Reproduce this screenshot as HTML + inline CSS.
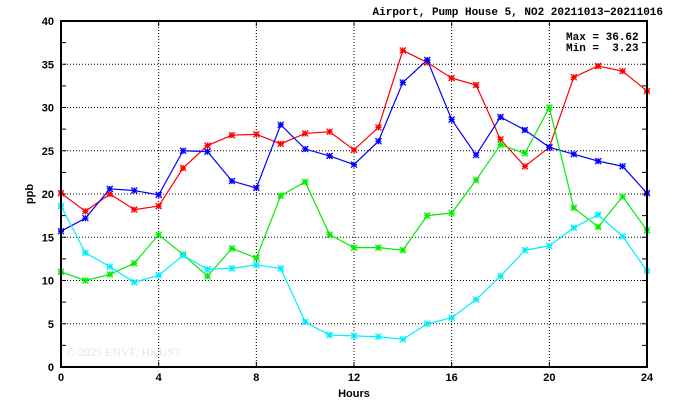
<!DOCTYPE html>
<html><head><meta charset="utf-8"><style>
body{margin:0;background:#fff}
svg text{font-family:"Liberation Sans",sans-serif;font-weight:bold;font-size:11px}
.mono{font-family:"Liberation Mono",monospace !important}
</style></head><body>
<svg id="s" width="674" height="409" xmlns="http://www.w3.org/2000/svg">
<text class="mono" x="663" y="15" text-anchor="end" font-size="11">Airport, Pump House 5, NO2 20211013−20211016</text>
<text class="mono" x="566" y="40" font-size="11">Max = 36.62</text>
<text class="mono" x="566" y="51" font-size="11">Min = &#160;3.23</text>
<text x="66" y="356" fill="#e6e6e6" style="font-family:'Liberation Serif',serif;font-weight:normal;font-size:12px">© 2025  ENVF, HKUST</text>
<text x="354" y="397" text-anchor="middle">Hours</text>
<text transform="translate(33,194) rotate(-90)" text-anchor="middle">ppb</text>
</svg>
<script>
const s=document.getElementById('s'),NS='http://www.w3.org/2000/svg';
const X0=61,X1=647,Y0=367,Y1=21;
const px=h=>X0+(X1-X0)*h/24, py=v=>Y0-(Y0-Y1)*v/40;
function el(t,a){const e=document.createElementNS(NS,t);for(const k in a)e.setAttribute(k,a[k]);s.appendChild(e);return e;}
for(let h=4;h<24;h+=4)el('line',{x1:px(h),x2:px(h),y1:Y1,y2:Y0,stroke:'#000','stroke-dasharray':'1,2','stroke-width':1});
for(let v=5;v<40;v+=5)el('line',{x1:X0,x2:X1,y1:py(v),y2:py(v),stroke:'#000','stroke-dasharray':'1,2','stroke-width':1});
for(let v=2.5;v<40;v+=2.5){el('line',{x1:X0,x2:X0+5,y1:py(v),y2:py(v),stroke:'#000'});el('line',{x1:X1-5,x2:X1,y1:py(v),y2:py(v),stroke:'#000'});}
for(let h=4;h<24;h+=4){el('line',{x1:px(h),x2:px(h),y1:Y0,y2:Y0-5,stroke:'#000'});el('line',{x1:px(h),x2:px(h),y1:Y1,y2:Y1+5,stroke:'#000'});}
for(let h=0;h<=24;h+=4){const t=el('text',{x:px(h),y:381,'text-anchor':'middle'});t.textContent=h;}
for(let v=0;v<=40;v+=5){const t=el('text',{x:54,y:py(v)+4,'text-anchor':'end'});t.textContent=v;}
const D={
'#ff0000':[20.1,18.0,20.0,18.2,18.6,23.0,25.6,26.8,26.9,25.8,27.0,27.2,25.1,27.7,36.6,35.2,33.4,32.6,26.3,23.2,25.4,33.5,34.8,34.2,31.9],
'#0000ff':[15.7,17.2,20.6,20.4,19.9,25.0,24.9,21.5,20.7,28.0,25.2,24.4,23.4,26.1,32.9,35.5,28.6,24.5,28.9,27.4,25.4,24.6,23.8,23.2,20.1],
'#00ee00':[11.0,10.0,10.7,12.0,15.3,13.0,10.5,13.7,12.6,19.8,21.4,15.3,13.8,13.8,13.5,17.5,17.8,21.6,25.7,24.7,30.0,18.4,16.2,19.7,15.8],
'#00eeff':[18.6,13.2,11.6,9.8,10.6,12.9,11.3,11.4,11.8,11.4,5.2,3.7,3.6,3.5,3.2,5.0,5.7,7.8,10.5,13.5,14.0,16.1,17.6,15.1,11.1]};
for(const c in D){const p=D[c].map((v,i)=>[px(i),py(v)]);
el('polyline',{points:p.map(q=>q.join(',')).join(' '),fill:'none',stroke:c,'stroke-width':1.2});
p.forEach(([x,y])=>el('path',{d:`M${x-3},${y}h6M${x},${y-3}v6M${x-3},${y-3}l6,6M${x+3},${y-3}l-6,6`,stroke:c,'stroke-width':1.3}));}
el('rect',{x:X0,y:Y1,width:X1-X0,height:Y0-Y1,fill:'none',stroke:'#000','stroke-width':2});
</script>
</body></html>
